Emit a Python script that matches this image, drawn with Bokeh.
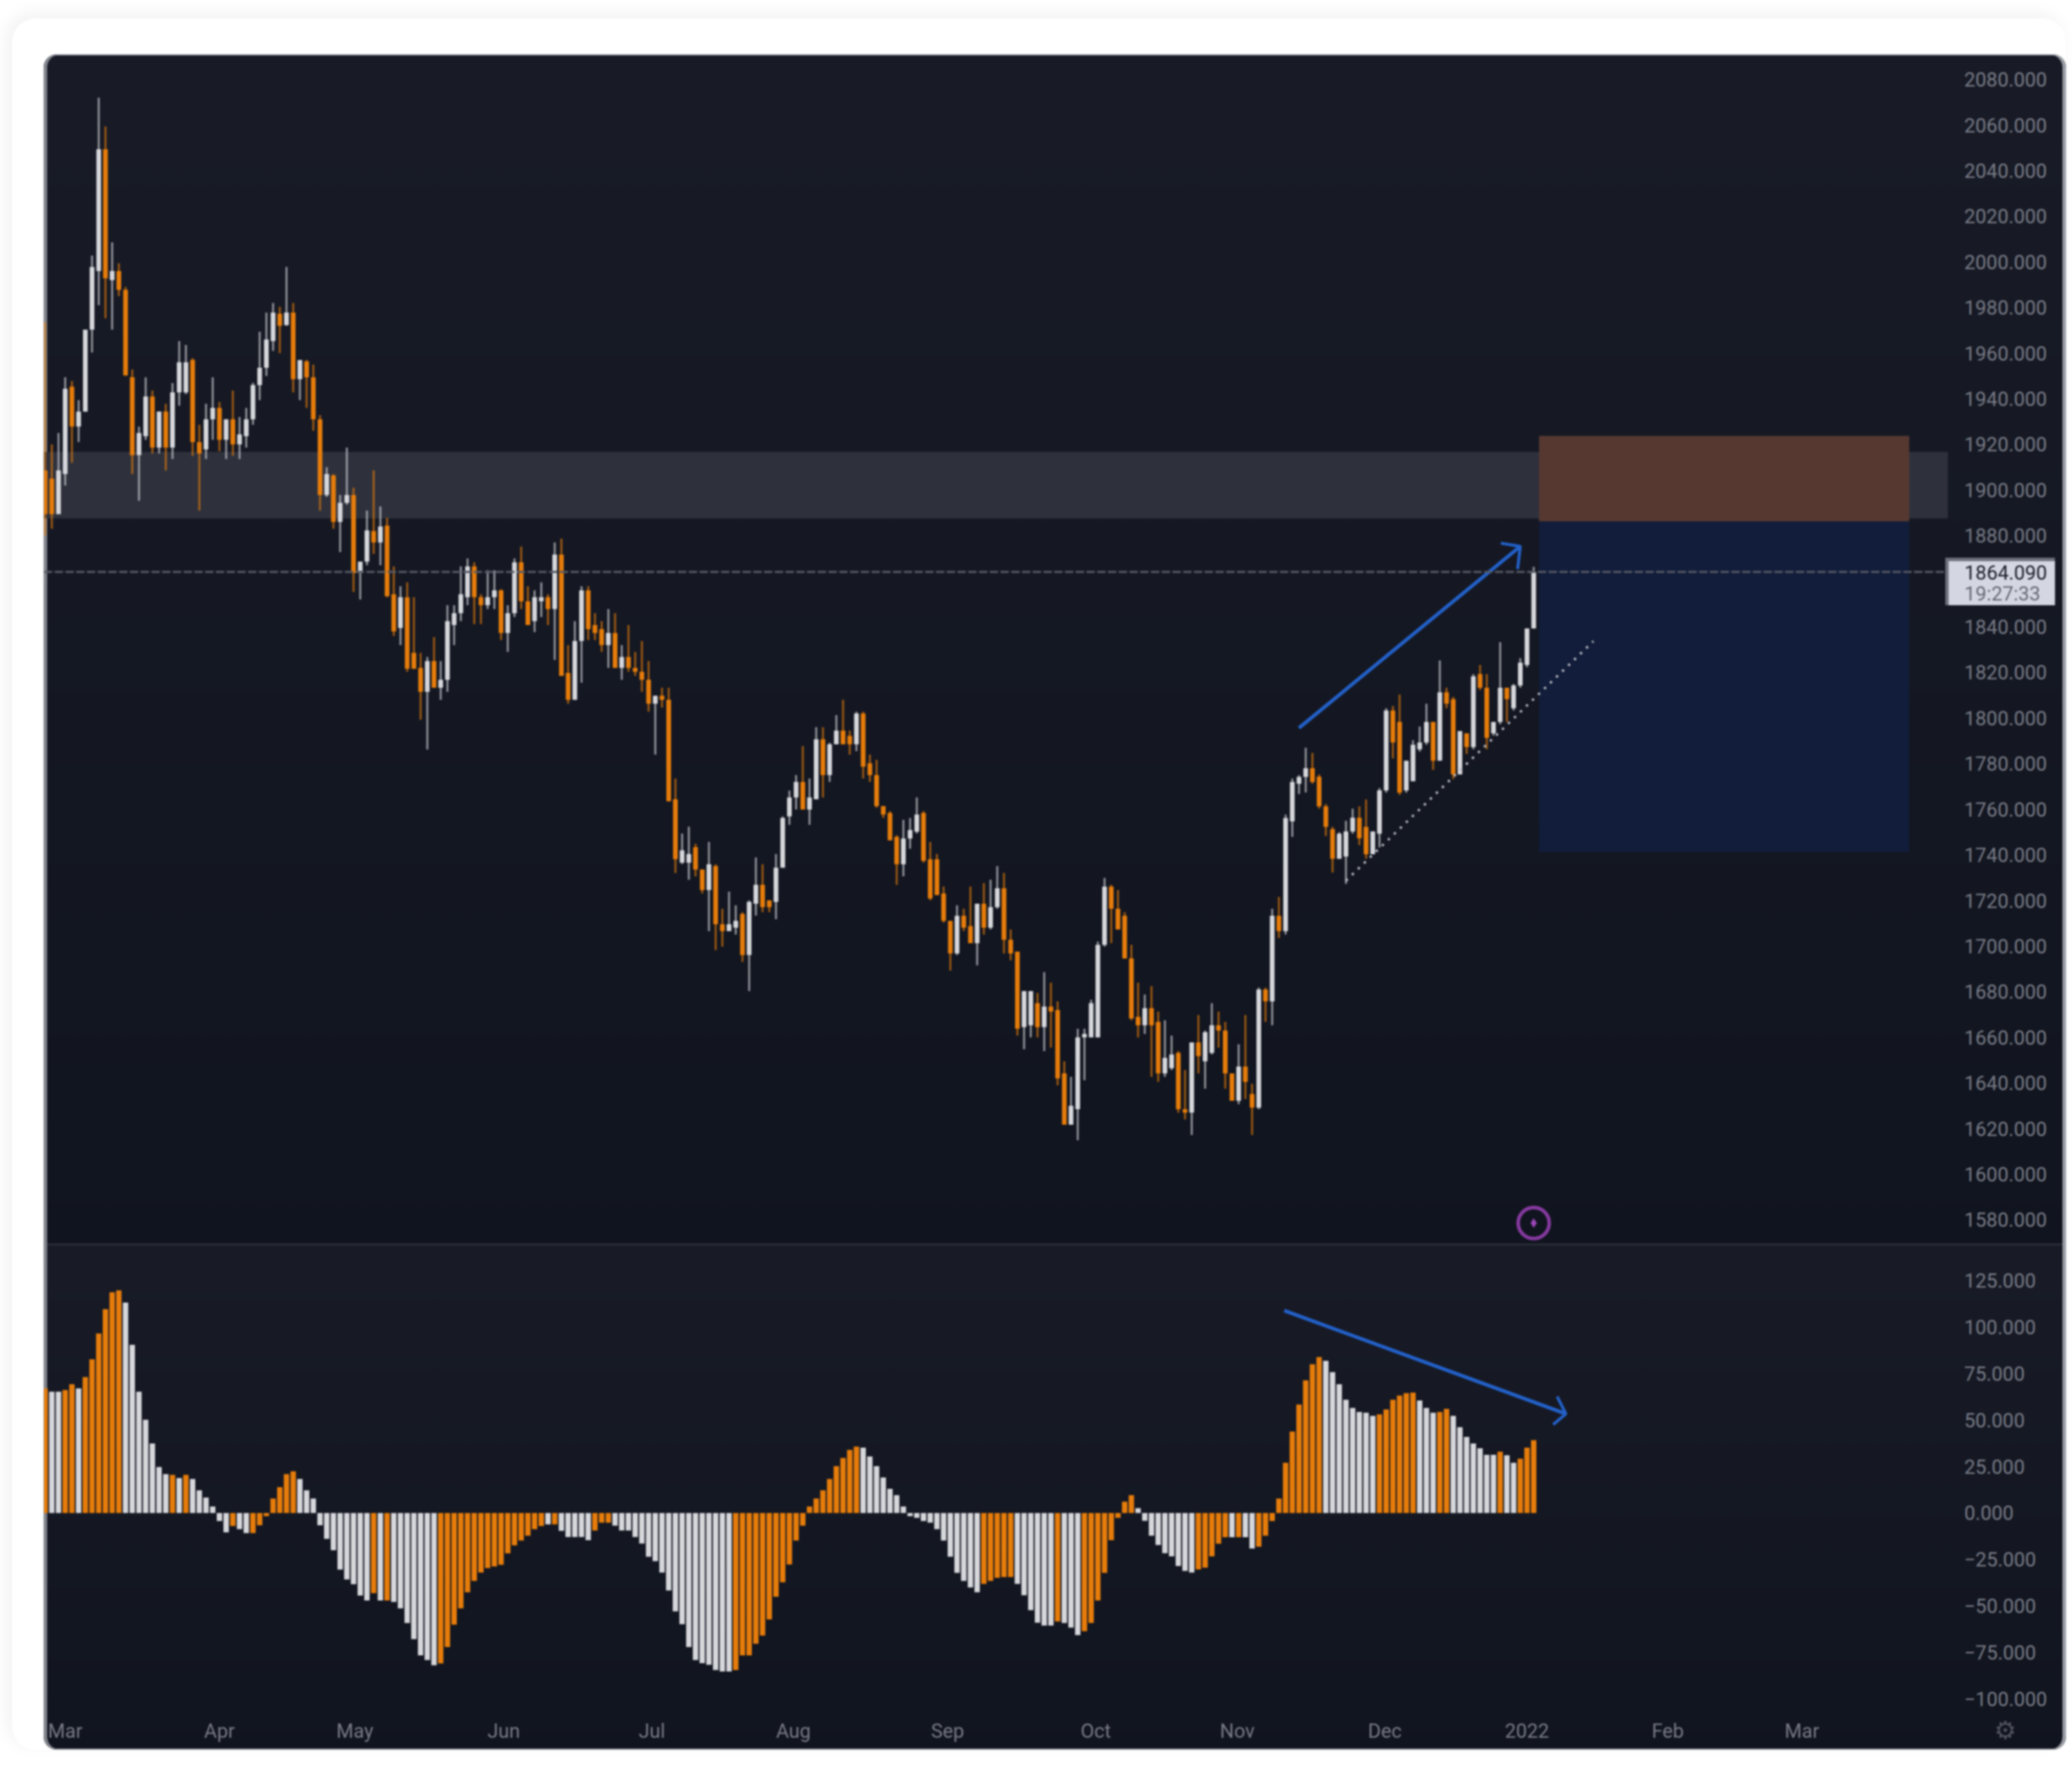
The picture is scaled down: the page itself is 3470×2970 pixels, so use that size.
from bokeh.plotting import figure
from bokeh.layouts import column
from bokeh.models import (ColumnDataSource, Range1d, LinearAxis, FixedTicker, Span)
from bokeh.embed import file_html
from bokeh.resources import INLINE
from bokeh.core.properties import value

candle_kinds = ("OOWWOWWWWO" "WOOOWWOWOW" "WWOOWWOWOW" "WWWWWOWOWO" "OOWOWWOWWO"
                "WOOWOOOWOW" "WWWWOOWWOW" "WOOWWOWOOW" "WOOOWOWOOO" "OWOOOWWOOW"
                "OOWWOWWOOW" "WWWOWWOWWO" "OWOOOOOOWW" "WOOOOOWOOW" "OWWOOOWWOW"
                "OOOWWWWWWO" "OOOOWOOWWO" "OWOWWOOOWO" "OWOWOWWWWO" "OOOWWWOOWW"
                "WOOWWWWOWO" "OWOWOOWWOW" "WWW")
candle_high = [1973.6,1920,1925,1949.4,1947.8,1939.4,1970.3,2002.8,2072,2059.4,
2008.6,1999.4,1989,1952.8,1927.8,1949.4,1943.6,1934.4,1937.8,1946.9,
1965.3,1963.6,1957.8,1928.6,1937.8,1949.4,1938.6,1931,1943.6,1932,
1936,1947,1969.4,1977.8,1982,1980.3,1997.8,1982,1957,1957,
1955,1932.8,1910,1907,1897.8,1918.6,1901,1868.6,1891,1908.6,
1892.8,1887.8,1866.5,1857.8,1859.5,1853,1828.6,1826.8,1835.5,1825,
1849.5,1849.5,1866.5,1870,1868.3,1854.3,1864.8,1864.8,1856.5,1849.5,
1870,1875.2,1857.8,1856,1859.5,1854.3,1877,1878.7,1832,1842.5,
1857.8,1857.8,1846,1842.5,1847.8,1846,1832,1840.8,1829,1833.8,
1825,1809.8,1813.3,1813.3,1773.5,1749.4,1752.4,1744.9,1733.6,1745.7,
1735.9,1716.4,1723.9,1717.9,1714.9,1720.1,1738.9,1735.9,1720.1,1740.4,
1756.9,1768.2,1775,1787.7,1773.5,1796,1796,1789.2,1801.3,1808,
1794.5,1802.8,1802.8,1784,1781.7,1761.4,1759.2,1748.7,1755.4,1756.2,
1765.2,1759.2,1745.7,1740.4,1726.1,1711.1,1717.9,1716.4,1726.1,1718.6,
1727.6,1729.1,1735.1,1732.1,1707.3,1697.6,1680.3,1680.3,1679.5,1688.6,
1684,1675.8,1649.5,1642.7,1663.8,1663.8,1676.5,1702,1729.9,1726.9,
1724.6,1714.9,1700.6,1684,1678.8,1682.5,1671.3,1667.5,1660.8,1654,
1645.7,1657.8,1669.8,1663,1675,1671.3,1666.8,1644.2,1657,1669.8,
1639.7,1681.8,1681.8,1716.4,1721.6,1757.7,1773.5,1775,1787,1784.7,
1775.3,1762.3,1752.3,1750,1755,1760.3,1761.3,1764.3,1750.3,1769.3,
1804.3,1805.3,1810.3,1781.3,1790.3,1796.3,1806.3,1798.3,1825.3,1813.3,
1809.3,1794.3,1793.3,1819.3,1823.3,1819.3,1798.3,1833.3,1813.3,1815,
1826.3,1839.3,1866.3]
candle_top = [1908.6,1905,1908.6,1944.4,1945.3,1934.4,1970.3,1997.8,2049.4,2049.4,
1996,1996,1987.8,1949.4,1925,1941,1941,1934.4,1934.4,1942.8,
1956,1956,1957,1921,1931,1936,1936,1931,1931,1924.4,
1931,1946,1953.6,1966,1977.8,1977.3,1977.8,1977.8,1957,1956.4,
1949.4,1931,1907,1906.4,1894.4,1897.8,1897.8,1868.6,1882.3,1882,
1884,1884.4,1854.3,1853,1853,1828.6,1822,1825,1825,1816.8,
1842.5,1846,1854.3,1866.5,1866.5,1853,1853,1856,1856,1846,
1868.3,1868.3,1851.2,1853,1853,1853,1871.7,1871.7,1819.8,1833.8,
1856,1856,1840.8,1839,1837.3,1837.3,1826.8,1826.8,1822,1820.3,
1816.8,1809.8,1809.8,1808,1764.4,1742,1740.4,1743.4,1733.6,1735.9,
1735.1,1709.6,1709.6,1711.1,1714.1,1719.4,1726.9,1726.9,1720.1,1734.4,
1756.2,1765.2,1772,1772,1765.2,1790.7,1790.7,1788.5,1794.5,1794.5,
1792.2,1802,1802,1780.2,1775,1761.4,1758.4,1747.9,1747.2,1750.9,
1757.7,1758.4,1738.1,1738.1,1723.1,1711.1,1713.3,1713.3,1708.8,1718.6,
1718.6,1717.1,1725.4,1725.4,1702.8,1697.6,1680.3,1680.3,1675,1673.5,
1673.5,1672,1644.2,1630,1660,1661.5,1675,1700.6,1726.1,1726.1,
1716.4,1713.3,1694.6,1669,1672.8,1672.8,1666.8,1651,1652.5,1653.2,
1628.5,1657.8,1657.8,1662.3,1665.3,1665.3,1663,1644.2,1647.2,1647.2,
1635.2,1681,1681,1713.3,1713.3,1756.2,1772,1774.2,1778,1778,
1774.3,1761.3,1751.3,1749.3,1750.3,1756.3,1756.3,1752.3,1750.3,1768.3,
1803.3,1803.3,1798.3,1781.3,1788.3,1789.3,1798.3,1798.3,1811.3,1811.3,
1808.3,1794.3,1793.3,1818.3,1819.3,1813.3,1798.3,1813.3,1813.3,1814.3,
1824.3,1839.3,1864.1]
candle_bottom = [1889.4,1889.4,1889.4,1907,1927.8,1927.8,1934.4,1970.3,1996,1992.8,
1992,1987.8,1950.3,1915.3,1915.3,1923.6,1918.6,1918.6,1918.6,1918.6,
1942.8,1942.8,1921,1916,1917.8,1931,1922,1922,1920,1920,
1923.6,1931,1946,1953.6,1965.3,1972,1972.3,1948.6,1948.6,1949.4,
1931,1897.8,1897.8,1886,1886,1894.4,1863.6,1863.6,1868.6,1877,
1877,1853.4,1838,1839.5,1821.6,1821.6,1811.5,1811.5,1813.3,1813.3,
1816.8,1840.8,1846,1853,1853,1849.5,1849.5,1853,1837.3,1837.3,
1846,1851.2,1840.8,1842.5,1851.2,1847.8,1847.8,1818.5,1808,1808,
1833.8,1839,1837.3,1832,1832,1822,1822,1822,1820.3,1816.8,
1806.3,1806.3,1808,1763.5,1738.1,1736.6,1736.6,1733.6,1724.6,1724.6,
1709.6,1706.6,1706.6,1708.1,1696.1,1696.1,1718.6,1717.1,1717.1,1719.4,
1734.4,1756.9,1765.2,1759.9,1759.9,1764.4,1775,1775,1788.5,1788.5,
1788.5,1788.5,1778.7,1775,1761.4,1757.7,1746.4,1735.9,1735.9,1747.2,
1750.2,1737.4,1720.9,1722.4,1711.1,1696.8,1696.8,1708.1,1701.3,1701.3,
1708.1,1708.1,1717.1,1702.8,1696.8,1663.8,1664.5,1665.3,1664.5,1664.5,
1671.3,1642,1621.7,1621.7,1628.5,1660,1660,1660,1700.6,1716.4,
1707.3,1694.6,1668.3,1665.3,1665.3,1665.3,1644.2,1644.2,1646.5,1628.5,
1627,1627,1651.8,1649.5,1653.2,1663,1644.2,1632.2,1632.2,1640.5,
1629.2,1629.2,1675.8,1675.8,1706.6,1706.6,1754.7,1771.2,1774.2,1772,
1761.3,1752.3,1738.3,1738.3,1739.3,1750.3,1747.3,1740.3,1740.3,1749.3,
1768.3,1789.3,1767.3,1768.3,1772.3,1786.3,1789.3,1781.3,1781.3,1806.3,
1775.3,1775.3,1787.3,1787.3,1813.3,1791.3,1793.3,1798.3,1808.3,1804.3,
1814.3,1823.3,1839.3]
candle_low = [1880,1883,1889.4,1902,1912,1921,1934.4,1960.3,1981,1975.3,
1970.3,1985,1950,1907,1895.3,1922,1916,1916,1908.6,1913.6,
1937,1942,1915,1891,1913.6,1922,1917,1913.6,1915,1913.6,
1918.6,1928.6,1939.4,1950,1961,1960,1972,1942.8,1939.4,1936,
1926,1891,1897,1883,1872.8,1893.6,1855.3,1852,1867,1872,
1867,1853,1836,1832,1820.3,1821.6,1799.3,1786.2,1813.3,1808,
1811.5,1832,1842.5,1849.5,1841.2,1841.2,1847.8,1847.8,1834.2,1829,
1844.3,1847.8,1840.8,1837.7,1844.3,1840.8,1825.5,1818.5,1806.3,1808,
1815.5,1834.2,1834.2,1829,1822,1822,1816.8,1820.3,1818.5,1811.5,
1802.8,1784,1804.6,1763.5,1732.1,1736,1729.1,1730.6,1723.1,1706.6,
1698.3,1699.8,1706.6,1705.1,1693.1,1680.3,1713.4,1714.9,1714.9,1711.8,
1734.4,1753.2,1759.9,1759.9,1753.2,1764.4,1765.2,1772,1788.5,1788.5,
1784,1785.5,1773.5,1772,1760.7,1756.2,1746.4,1726.9,1730.6,1742.7,
1749.4,1736.6,1720.1,1722.4,1710.3,1689.3,1696.1,1706.6,1701.3,1691.6,
1705.1,1707.3,1716.4,1696.8,1693.8,1660.8,1654.8,1660,1660,1654,
1655.5,1639,1621.7,1621.7,1614.9,1641.2,1660,1660,1699.8,1701.3,
1707.3,1694.6,1667.5,1660,1661.5,1642.7,1640.5,1642.7,1645.7,1627,
1624,1617.2,1644.2,1637.5,1652.5,1655.5,1637.5,1632.2,1630.7,1633,
1617.2,1628.5,1666.8,1665.3,1703.6,1705.1,1747.9,1766.7,1767.4,1771.2,
1760.3,1748.3,1732.3,1738.3,1727.3,1749.3,1744.3,1738.3,1740.3,1743.3,
1767.3,1782.3,1766.3,1767.3,1772.3,1785.3,1788.3,1777.3,1781.3,1804.3,
1773.3,1775.3,1784.3,1786.3,1812.3,1786.3,1792.3,1797.3,1798.3,1803.3,
1813.3,1822.3,1839.3]

hist_values = [67,65.2,65.2,66.1,69.2,67,73.1,82.6,96.5,109.6,
118.6,119.7,113.1,90.4,65.2,50.1,37.4,24.7,20.9,20.5,
18.8,20.5,18.3,12.2,8.3,3.5,-4.3,-10.4,-7,-8.7,
-10.8,-10.8,-6.6,-1.7,7.8,13.9,20.9,22.4,18.3,12.2,
7.8,-6.6,-13.9,-20,-30.4,-35.7,-38.3,-44.4,-47,-43.1,
-47,-47,-47.8,-51.3,-59.1,-67.8,-76.5,-79,-81.8,-80.9,
-72,-60,-51.3,-42.6,-36.5,-32,-29.6,-28.7,-27.8,-21.7,
-17.4,-14.8,-12.2,-8.7,-7,-6.1,-6.1,-9.6,-12.9,-12.9,
-12.9,-14.6,-9.4,-5.2,-5.2,-6.8,-9.4,-9.4,-12.9,-16.4,
-23.5,-25.9,-32,-41.6,-52.9,-59.8,-72,-79,-80.7,-81.6,
-84.4,-85.2,-85.2,-84.4,-76.5,-76.5,-70.3,-65.9,-57.2,-45,
-37.2,-27.7,-14.8,-6.8,3.5,
7.8,12.2,18.3,25.2,29.6,33.9,35.7,
35.1,30.4,25.2,19.1,13,9.6,3.5,-1.7,-2.6,-4.3,-5.2,-8.7,-14.8,-23.5,-32.2,-36.5,-40,-42.6,
-38.1,-36.5,-34.8,-34.4,-34.4,
-38.1,-44.2,-52.2,-59,-60.5,-60.5,-58.3,-59.1,-61.6,-65.6,
-63.5,-59.1,-47,-32.2,-14.6,-2.6,6.1,9.6,
2.6,-4.2,-12.2,-17.2,-21.6,-23.3,-28.5,-31.1,-32,
-30.3,-29.4,-23.3,-16.5,-13,-13,-13,-13,-19.1,
-18.1,-12.2,-4.3,7.8,27,43.8,58.3,71.3,80,83.8,
81.8,75.7,69.2,60.9,56.5,54.3,53.9,52.2,
53,55.7,60.9,63.1,64.4,64.7,60.5,56.5,53.9,54.3,56,
52.2,46.1,40.9,37.4,34.8,31.3,31.3,33,31,27,29.2,35.1,39.1]
hist_kinds = ("OWWOOWOOOO" "OOWWWWWWWO" "WOWWWWWWOW" "WOOOOOOOWW" "WWWWWWWWWO"
              "WOWWWWWWWO" "OOOOOOOOOO" "OOOOOWOWWW" "WWOOOWWWWW" "WWWWWWWWWW"
              "WWWOOOOOOO" "OOOOO"
              "OOOOOOO" "WWWWWWWWWWWWWWWWWW" "OOOOO" "WWWWWW" "O" "WWW" "OOOOOOOO"
              "WWWWWWWWW" "OOOOO" "W" "O" "WW" "OOOOOOOOOO" "WWWWWWWW" "OOOOOO"
              "WWW" "OO" "WWWWWWW" "O" "WW" "OOO")

price_ticks = [1580,1600,1620,1640,1660,1680,1700,1720,1740,1760,1780,1800,1820,1840,
               1880,1900,1920,1940,1960,1980,2000,2020,2040,2060,2080]
osc_ticks = [-100,-75,-50,-25,0,25,50,75,100,125]
month_positions = [3,26,46.2,68.4,90.5,111.6,134.6,156.7,177.8,199.8,221,242,262]
month_labels = ["Mar","Apr","May","Jun","Jul","Aug","Sep","Oct","Nov","Dec","2022","Feb","Mar"]

last_price = 1864.09
last_price_text = "1864.090"
last_time_text = "19:27:33"
tag_left, tag_right, tag_low, tag_high = 283.35, 299.7, 1849.5, 1870.3
tag_text_x, tag_price_y, tag_time_y = 286.2, 1863.8, 1854.6
gear_x, gear_y = 292.3, 1356.1
zone_left, zone_right, zone_low, zone_high = -0.2, 283.8, 1887.5, 1916.7
box_left, box_right = 222.8, 278
stop_high, entry, target = 1923.7, 1886.3, 1741.3
up_arrow_x, up_arrow_y = [187, 220], [1795.7, 1875.3]
up_head_x, up_head_y = [217.1, 220, 219.6], [1876.7, 1875.3, 1865.3]
trend_x, trend_y = [194, 230.9], [1728.7, 1833.7]
down_arrow_x, down_arrow_y = [184.8, 226.8], [108.8, 53.3]
down_head_x, down_head_y = [225.5, 226.8, 224.9], [62.6, 53.3, 47.5]

ORANGE, WHITE = "#e67c0a", "#d6d7db"
BLUE = "#2260c8"
LABEL = "#787b86"
n = len(candle_high)
xs = list(range(n))
colors = [WHITE if k == "W" else ORANGE for k in candle_kinds]
x_range = Range1d(-0.18, 283.8)

def panel(height, yr, bottom, shadow, radius):
    p = figure(width=3387, height=height, x_range=x_range, y_range=yr, toolbar_location=None,
               output_backend="svg", x_axis_location=None, y_axis_location=None,
               min_border_left=0, min_border_top=0, min_border_right=198, min_border_bottom=bottom)
    p.border_fill_color = None
    p.background_fill_color = None
    p.outline_line_color = None
    p.grid.visible = False
    p.styles = {"background": "linear-gradient(#181b26, #10141e)", "box-shadow": shadow,
                "border-radius": radius, "overflow": "hidden"}
    return p

def right_axis(p, ticks, overrides=None):
    ax = LinearAxis(ticker=FixedTicker(ticks=ticks))
    ax.axis_line_color = None
    ax.major_tick_line_color = None
    ax.minor_tick_line_color = None
    ax.major_tick_out = 0
    ax.major_label_standoff = 27
    ax.major_label_text_color = LABEL
    ax.major_label_text_font = "Roboto"
    ax.major_label_text_font_size = "33px"
    ax.major_label_overrides = overrides
    p.add_layout(ax, "right")

top = panel(1992, Range1d(1569.5, 2090.9), 0,
            "inset 6px 0 0 #83858d, inset -6px 0 0 #9a9ca3, inset 0 2px 0 #8a8c94", "22px 22px 0 0")
top.margin = (60, 0, 0, 53)
right_axis(top, price_ticks, {t: f"{t}.000" for t in price_ticks})

top.quad(left=[zone_left], right=[zone_right], bottom=[zone_low], top=[zone_high],
         fill_color="#2e313c", line_color=None)
top.quad(left=[box_left], right=[box_right], bottom=[target], top=[entry],
         fill_color="#111d3a", line_color=None)
top.quad(left=[box_left], right=[box_right], bottom=[entry], top=[stop_high],
         fill_color="#573831", line_color=None)

src = ColumnDataSource(dict(x=xs, high=candle_high, low=candle_low, top=candle_top,
                            bottom=candle_bottom, color=colors))
top.segment(x0="x", x1="x", y0="low", y1="high", color="color", line_width=3.5,
            line_alpha=0.62, source=src)
top.vbar(x="x", width=0.7, top="top", bottom="bottom", fill_color="color", line_color=None, source=src)

top.add_layout(Span(location=last_price, dimension="width", line_color="#565964", line_width=3.5,
                    line_dash="14 4"))
top.line(trend_x, trend_y, line_color="#b8bac2", line_width=4, line_dash="4 10")
top.line(up_arrow_x, up_arrow_y, line_color=BLUE, line_width=6)
top.line(up_head_x, up_head_y, line_color=BLUE, line_width=5)

top.scatter([222], [1578.6], size=52, marker="circle", fill_color=None, line_color="#85399f", line_width=6)
top.scatter([222], [1578.6], size=16, marker="diamond", fill_color="#9a45b8", line_color=None)

bottom = panel(848, Range1d(-103, 144.7), 76,
               "inset 6px 0 0 #83858d, inset -6px 0 0 #9a9ca3, inset 0 3px 0 #2a2e39, inset 0 -2px 0 #8a8c94",
               "0 0 22px 22px")
bottom.margin = (0, 0, 0, 53)
right_axis(bottom, osc_ticks, {t: (f"{t}.000" if t >= 0 else f"\u2212{-t}.000") for t in osc_ticks})
xaxis = LinearAxis(ticker=FixedTicker(ticks=month_positions))
xaxis.major_label_overrides = dict(zip(month_positions, month_labels))
xaxis.axis_line_color = None
xaxis.major_tick_line_color = None
xaxis.minor_tick_line_color = None
xaxis.major_tick_out = 0
xaxis.major_label_standoff = 24
xaxis.major_label_text_color = LABEL
xaxis.major_label_text_font = "Roboto"
xaxis.major_label_text_font_size = "33px"
bottom.add_layout(xaxis, "below")

hist_colors = [WHITE if k == "W" else ORANGE for k in hist_kinds]
hsrc = ColumnDataSource(dict(x=list(range(len(hist_values))), v=hist_values, color=hist_colors))
bottom.vbar(x="x", width=0.8, top="v", bottom=0, fill_color="color", line_color=None, source=hsrc)
bottom.line(down_arrow_x, down_arrow_y, line_color=BLUE, line_width=6)
bottom.line(down_head_x, down_head_y, line_color=BLUE, line_width=5)

overlay = figure(width=3387, height=2840, x_range=Range1d(-0.18, 301.4), y_range=Range1d(1347.5, 2090.9),
                 toolbar_location=None, output_backend="svg", x_axis_location=None, y_axis_location=None,
                 min_border_left=0, min_border_top=0, min_border_right=0, min_border_bottom=0,
                 margin=(-2840, 0, 0, 53))
overlay.frame_align = False
overlay.border_fill_color = None
overlay.background_fill_color = None
overlay.outline_line_color = None
overlay.grid.visible = False
overlay.quad(left=[tag_left], right=[tag_right], bottom=[tag_low], top=[tag_high],
             fill_color="#6f717b", line_color=None)
overlay.quad(left=[tag_left + 0.5], right=[tag_right], bottom=[tag_low], top=[tag_high - 1.5],
             fill_color="#d4d7e2", line_color=None)
overlay.text(x=[tag_text_x], y=[tag_price_y], text=[last_price_text], text_color="#1a1d27",
             text_font=value("Roboto"), text_font_size="33px", text_baseline="middle")
overlay.text(x=[tag_text_x], y=[tag_time_y], text=[last_time_text], text_color="#666a76",
             text_font=value("Roboto"), text_font_size="33px", text_baseline="middle")
overlay.text(x=[gear_x], y=[gear_y], text=["\u2699"], text_color="#50535e",
             text_font=value("DejaVu Sans"), text_font_size="42px", text_align="center",
             text_baseline="middle")

page = column(top, bottom, overlay, spacing=0, margin=(31, 0, 0, 20))
page.styles = {"border-radius": "40px", "background": "#ffffff", "filter": "blur(1.4px)",
               "box-shadow": "-8px -8px 30px rgba(0,0,0,0.06)"}
open("out.html", "w").write(file_html(page, INLINE))
